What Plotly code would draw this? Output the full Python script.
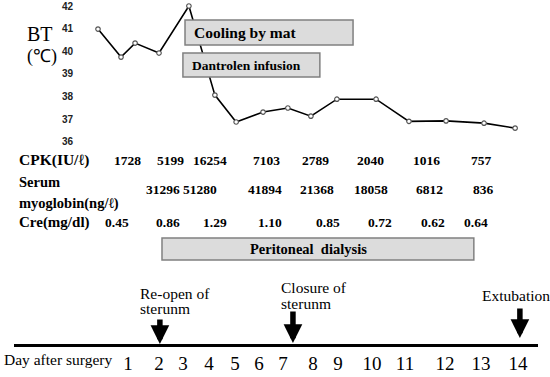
import plotly.graph_objects as go

# ---------------- data ----------------
bt_day = [0.0, 0.77, 1.24, 2.04, 3.04, 3.91, 4.62, 5.52, 6.35, 7.12, 7.99, 9.30, 10.40, 11.64, 12.91, 13.95]
bt_temp = [40.98, 39.74, 40.36, 39.92, 42.0, 38.06, 36.87, 37.31, 37.49, 37.13, 37.88, 37.88, 36.9, 36.92, 36.82, 36.6]
bt_ticks = [36, 37, 38, 39, 40, 41, 42]

cpk_day = [1.0, 2.41, 3.75, 5.62, 7.26, 9.13, 11.0, 12.81]
cpk_val = ["1728", "5199", "16254", "7103", "2789", "2040", "1016", "757"]
myo_day = [2.17, 3.41, 5.59, 7.32, 9.13, 11.1, 12.88]
myo_val = ["31296", "51280", "41894", "21368", "18058", "6812", "836"]
cre_day = [0.64, 2.34, 3.91, 5.75, 7.69, 9.43, 11.2, 12.64]
cre_val = ["0.45", "0.86", "1.29", "1.10", "0.85", "0.72", "0.62", "0.64"]

day_labels = ["1", "2", "3", "4", "5", "6", "7", "8", "9", "10", "11", "12", "13", "14"]

# treatments: (label, start day, end day)
treatments = [("Cooling by mat", 2.91, 8.53), ("Dantrolen infusion", 2.84, 7.42),
              ("Peritoneal\u00a0 dialysis", 2.14, 12.57)]
# events: (label lines, day)
events = [(["Re-open of", "sterunm"], 2.07), (["Closure of", "sterunm"], 6.52), (["Extubation"], 14.11)]

# ---------------- layout helpers ----------------
W, H = 550, 377
PX0, PXD = 98, 29.9  # pixel of day 0 and pixels per day


def px2d(px):
    return (px - PX0) / PXD


def py(p):  # pixel y -> paper y
    return 1 - p / H


# positions where the day labels are printed (layout only)
DAY_TICK_PX = [128, 159, 183, 209, 235, 259, 283, 313, 338, 372, 405, 445, 481, 518]

SERIF = "Liberation Serif, Times New Roman, serif"

fig = go.Figure()
fig.add_trace(go.Scatter(
    x=bt_day, y=bt_temp, mode="lines+markers",
    line=dict(color="black", width=1.6),
    marker=dict(size=4.5, color="white", line=dict(color="#555555", width=1.2)),
    hoverinfo="skip", showlegend=False, cliponaxis=False,
))

shapes = []
annotations = []

# treatment boxes
box_rows = [(20, 45, 15.5, "left"), (53, 77, 13.5, "left"), (238, 260, 14.5, "center")]
for (label, s, e), (top, bot, fs, al) in zip(treatments, box_rows):
    shapes.append(dict(type="rect", xref="x", yref="paper", x0=s, x1=e, y0=py(bot), y1=py(top),
                       fillcolor="#dcdcdc", line=dict(color="#808080", width=1.5), layer="above"))
    if al == "left":
        annotations.append(dict(x=s + 7 / PXD, y=py((top + bot) / 2), xref="x", yref="paper",
                                text="<b>%s</b>" % label, showarrow=False, xanchor="left", yanchor="middle",
                                font=dict(family=SERIF, size=fs, color="black")))
    else:
        annotations.append(dict(x=(s + e) / 2 - 0.3, y=py((top + bot) / 2), xref="x", yref="paper",
                                text="<b>%s</b>" % label, showarrow=False, xanchor="center", yanchor="middle",
                                font=dict(family=SERIF, size=fs, color="black")))

# row labels
row_labels = [("CPK(IU/ℓ)", 160, 15.5), ("Serum", 182, 14.5), ("myoglobin(ng/ℓ)", 203, 14.5), ("Cre(mg/dl)", 222, 15)]
for txt, y, fs in row_labels:
    annotations.append(dict(x=17 / W, y=py(y), xref="paper", yref="paper", text="<b>%s</b>" % txt,
                            showarrow=False, xanchor="left", yanchor="middle",
                            font=dict(family=SERIF, size=fs, color="black")))

for days, vals, y in [(cpk_day, cpk_val, 160), (myo_day, myo_val, 189), (cre_day, cre_val, 222)]:
    for d, v in zip(days, vals):
        annotations.append(dict(x=d, y=py(y), xref="x", yref="paper", text="<b>%s</b>" % v,
                                showarrow=False, xanchor="center", yanchor="middle",
                                font=dict(family=SERIF, size=13.5, color="black")))

# BT label
annotations.append(dict(x=40 / W, y=py(34), xref="paper", yref="paper", text="BT", showarrow=False,
                        xanchor="center", yanchor="middle", font=dict(family=SERIF, size=20, color="black")))
annotations.append(dict(x=42 / W, y=py(56), xref="paper", yref="paper", text="(℃)", showarrow=False,
                        xanchor="center", yanchor="middle", font=dict(family=SERIF, size=18, color="black")))

# events
event_geo = [  # (text left px, line ys, arrow tip y, tail y)
    (138, [293, 308], 344, 318),
    (279, [287, 303], 343, 310),
    (480, [295], 338, 307),
]
for (lines, d), (lx, lys, tip, tail) in zip(events, event_geo):
    for t, ly in zip(lines, lys):
        annotations.append(dict(x=lx / W, y=py(ly), xref="paper", yref="paper", text=t, showarrow=False,
                                xanchor="left", yanchor="middle", font=dict(family=SERIF, size=15.5, color="black")))
    annotations.append(dict(x=d, y=py(tip), xref="x", yref="paper", text="", showarrow=True,
                            axref="pixel", ayref="pixel", ax=0, ay=-(tip - tail),
                            arrowhead=2, arrowwidth=5.5, arrowsize=0.68, arrowcolor="black", standoff=0))

annotations.append(dict(x=2 / W, y=py(359), xref="paper", yref="paper", text="Day after surgery",
                        showarrow=False, xanchor="left", yanchor="middle",
                        font=dict(family=SERIF, size=15.5, color="black")))

fig.update_layout(
    width=W, height=H,
    margin=dict(l=0, r=0, t=0, b=0, autoexpand=False),
    paper_bgcolor="white", plot_bgcolor="rgba(0,0,0,0)",
    showlegend=False,
    xaxis=dict(domain=[14 / W, 538 / W], range=[px2d(14), px2d(538)], anchor="free", position=py(345),
               showgrid=False, zeroline=False, showline=True, linecolor="black", linewidth=2.8,
               tickmode="array", tickvals=[px2d(p) for p in DAY_TICK_PX], ticktext=day_labels,
               ticks="", tickfont=dict(family=SERIF, size=19, color="black"), ticklabelstandoff=0,
               automargin=False),
    yaxis=dict(domain=[py(141.7), py(6)], range=[36, 42], anchor="free", position=73 / W,
               showgrid=False, zeroline=False, showline=False, ticks="",
               tickmode="array", tickvals=bt_ticks, ticktext=[str(t) for t in bt_ticks],
               tickfont=dict(family="Liberation Sans, Arial, sans-serif", size=10, color="#222222",
                             weight="bold"),
               automargin=False),
    shapes=shapes, annotations=annotations,
)

fig.write_html("out.html", config={"displayModeBar": False},
               post_script="document.body.style.margin='0';document.body.style.overflow='hidden';")
